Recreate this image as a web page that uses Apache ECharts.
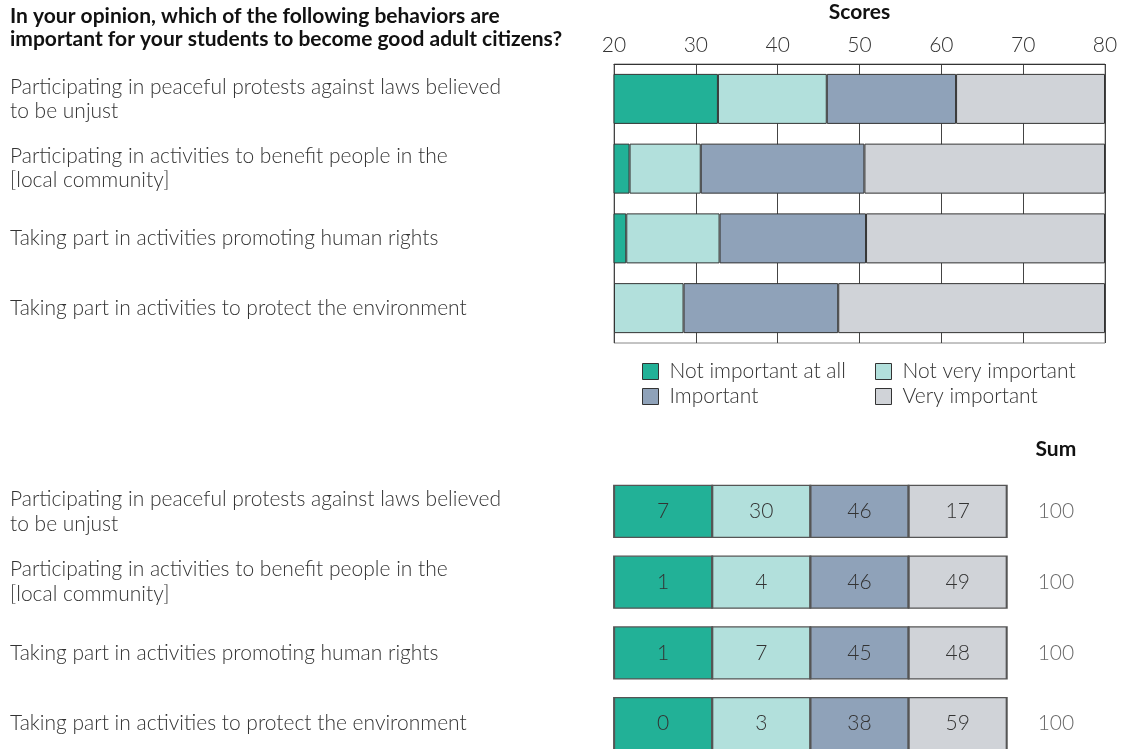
<!DOCTYPE html>
<html>
<head>
<meta charset="utf-8">
<script src="https://cdn.jsdelivr.net/npm/echarts@6/dist/echarts.min.js"></script>
<style>
html,body{margin:0;padding:0;background:#fff;}
#chart{width:1121px;height:749px;}
</style>
</head>
<body>
<div id="chart"></div>
<script>
// ---- data ----
const titleLines = ['In your opinion, which of the following behaviors are', 'important for your students to become good adult citizens?'];
const items = [
  'Participating in peaceful protests against laws believed\nto be unjust',
  'Participating in activities to benefit people in the\n[local community]',
  'Taking part in activities promoting human rights',
  'Taking part in activities to protect the environment'
];
const levels = ['Not important at all', 'Not very important', 'Important', 'Very important'];
// score thresholds (boundaries between levels)
const threshold1 = [32.7, 21.9, 21.5, 20.0];
const threshold2 = [46.0, 30.6, 32.9, 28.5];
const threshold3 = [61.8, 50.6, 50.8, 47.4];
const scoreMin = 20, scoreMax = 80, scoreInterval = 10;
// percentages
const pctNotAtAll = [7, 1, 1, 0];
const pctNotVery = [30, 4, 7, 3];
const pctImportant = [46, 46, 45, 38];
const pctVery = [17, 49, 48, 59];
const pctSum = [100, 100, 100, 100];

const colors = ['#22b197', '#b2e0dc', '#8fa2b9', '#d0d3d8'];
const FONT = 'Lato';
const FS = 21;

// stacked segments built from thresholds
const seg1 = threshold1.slice();
const seg2 = threshold2.map((v, i) => +(v - threshold1[i]).toFixed(2));
const seg3 = threshold3.map((v, i) => +(v - threshold2[i]).toFixed(2));
const seg4 = threshold3.map(v => +(scoreMax - v).toFixed(2));
const segs = [seg1, seg2, seg3, seg4];
const pcts = [pctNotAtAll, pctNotVery, pctImportant, pctVery];

const chart = echarts.init(document.getElementById('chart'));

const barSeries = levels.map((name, k) => ({
  type: 'bar', name, stack: 'score', xAxisIndex: 0, yAxisIndex: 0,
  barWidth: 50, clip: true, silent: true,
  itemStyle: { color: colors[k], borderColor: '#333', borderWidth: 1 },
  data: segs[k]
}));

const cellSeries = levels.map((name, k) => ({
  type: 'scatter', name, xAxisIndex: 1, yAxisIndex: 1,
  symbol: 'rect', symbolSize: [98, 52], silent: true,
  itemStyle: { color: colors[k], borderColor: '#555', borderWidth: 1.5, opacity: 1 },
  label: { show: true, position: 'inside', formatter: p => p.value[2], fontFamily: FONT, fontWeight: 300, fontSize: FS, color: '#333' },
  data: pcts[k].map((v, i) => [k, i, v])
}));

const sumSeries = {
  type: 'scatter', name: 'Sum', xAxisIndex: 1, yAxisIndex: 1,
  symbol: 'rect', symbolSize: [98, 52], silent: true,
  itemStyle: { color: 'rgba(0,0,0,0)' },
  label: { show: true, position: 'inside', formatter: p => p.value[2], fontFamily: FONT, fontWeight: 300, fontSize: FS, color: '#444' },
  data: pctSum.map((v, i) => [4, i, v])
};

const legendCommon = {
  orient: 'vertical', itemWidth: 16, itemHeight: 16, itemGap: 4, icon: 'rect',
  itemStyle: { borderColor: '#333', borderWidth: 1 },
  textStyle: { fontFamily: FONT, fontWeight: 300, fontSize: FS, lineHeight: 21, color: '#333', padding: [0, 0, 0, 6] },
  selectedMode: false, padding: 0
};

chart.setOption({
  animation: false,
  textStyle: { fontFamily: FONT },
  title: {
    text: titleLines.join('\n'), left: 10, top: 5, padding: 0,
    textStyle: { fontFamily: FONT, fontWeight: 'bold', fontSize: FS, color: '#111', lineHeight: 23 }
  },
  legend: [
    Object.assign({ data: [levels[0], levels[2]], left: 642, top: 361 }, legendCommon),
    Object.assign({ data: [levels[1], levels[3]], left: 875, top: 361 }, legendCommon)
  ],
  grid: [
    { left: 614, right: 16, top: 64, height: 279, show: true, borderColor: '#888', borderWidth: 1, backgroundColor: 'transparent', outerBoundsMode: 'none' },
    { left: 614, right: 16, top: 476, height: 283, outerBoundsMode: 'none' }
  ],
  xAxis: [
    {
      type: 'value', gridIndex: 0, position: 'top', min: scoreMin, max: scoreMax, interval: scoreInterval,
      name: 'Scores', nameLocation: 'middle', nameGap: 41,
      nameTextStyle: { fontFamily: FONT, fontWeight: 'bold', fontSize: FS, color: '#111' },
      axisLine: { show: true, lineStyle: { color: '#333', width: 1 } },
      axisTick: { show: false },
      axisLabel: { fontFamily: FONT, fontWeight: 300, fontSize: FS, color: '#333', margin: 8 },
      splitLine: { show: true, lineStyle: { color: '#444', width: 1 } }
    },
    {
      type: 'category', gridIndex: 1, position: 'top', data: levels.concat(['Sum']),
      axisLine: { show: false }, axisTick: { show: false }, splitLine: { show: false },
      axisLabel: {
        margin: 16, fontFamily: FONT, fontWeight: 'bold', fontSize: FS, color: '#111',
        formatter: v => v === 'Sum' ? 'Sum' : ''
      }
    }
  ],
  yAxis: [
    {
      type: 'category', gridIndex: 0, inverse: true, data: items,
      axisLine: { show: false }, axisTick: { show: false },
      axisLabel: { align: 'left', margin: 604, fontFamily: FONT, fontWeight: 300, fontSize: FS, color: '#333', lineHeight: 24 }
    },
    {
      type: 'category', gridIndex: 1, inverse: true, data: items,
      axisLine: { show: false }, axisTick: { show: false },
      axisLabel: { align: 'left', margin: 604, fontFamily: FONT, fontWeight: 300, fontSize: FS, color: '#333', lineHeight: 25, padding: [3, 0, 0, 0] }
    }
  ],
  series: barSeries.concat(cellSeries, [sumSeries])
});
</script>
</body>
</html>
